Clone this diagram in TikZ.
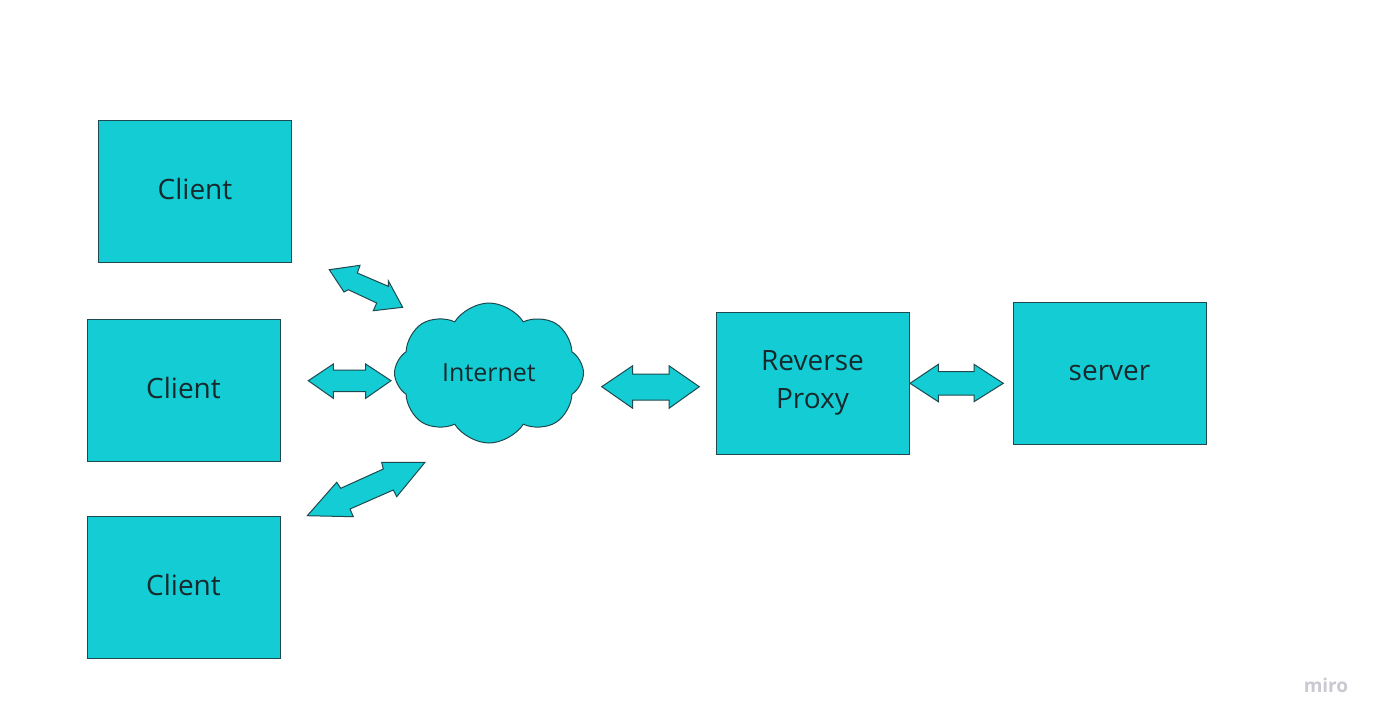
\documentclass[tikz,border=0pt]{standalone}
\usepackage{fontspec}
\setmainfont{Open Sans}
\usetikzlibrary{shapes.symbols}
\definecolor{boxfill}{HTML}{14CDD4}
\definecolor{boxline}{HTML}{1E4A4F}
\definecolor{boxtext}{HTML}{17292C}
\definecolor{wmark}{HTML}{C9C9D2}
\tikzset{
  box/.style={draw=boxline, line width=1pt, fill=boxfill, minimum width=193pt, minimum height=142pt, inner sep=0pt, text=boxtext, font=\fontsize{28}{38}\selectfont, align=center},
  clientbox/.style={box, text depth=5pt},
  cloudnode/.style={cloud, cloud puffs=8, cloud puff arc=115, shape border rotate=22.5, aspect=1.35, draw=boxline, line width=1pt, fill=boxfill, minimum width=189pt, minimum height=140pt, inner sep=0pt, text=boxtext, font=\fontsize{25}{30}\selectfont},
  blockarrow/.style={draw=boxline, line width=1pt, fill=boxfill, line join=miter},
}
\begin{document}
\begin{tikzpicture}[x=1pt, y=-1pt]
\useasboundingbox (0,0) rectangle (1380,724);
\fill[white] (0,0) rectangle (1380,724);

% nodes
\node[clientbox] (c1) at (195,191) {Client};
\node[clientbox] (c2) at (183.5,390) {Client};
\node[clientbox] (c3) at (183.5,587) {Client};
\node[cloudnode] (net) at (489,373) {Internet};
\node[box] (proxy) at (812.5,383) {Reverse\\Proxy};
\node[box] (server) at (1109.5,373) {server};

% block arrows
\path[blockarrow] (329.3,269.7) -- (360,265.3) -- (357.3,273) -- (388.3,286.3) -- (388.3,280.7) -- (402.7,307.3) -- (373.3,310.7) -- (376.7,303) -- (348.3,289.7) -- (344,292) -- cycle;
\path[blockarrow] (308.3,380.7) -- (333.3,364) -- (333.3,370) -- (365.7,370) -- (365.7,364) -- (391,380.7) -- (365.7,398.3) -- (365.7,391.7) -- (333.3,391.7) -- (333.3,398.3) -- cycle;
\path[blockarrow] (307.3,515.7) -- (336.7,482.3) -- (340.7,488.3) -- (383.3,469) -- (381.7,462.3) -- (425,462.3) -- (396.7,496.7) -- (393.3,490) -- (350,509) -- (353.3,516.7) -- cycle;
\path[blockarrow] (601.7,386.7) -- (632.7,365.7) -- (632.7,374) -- (669,374) -- (669,365.7) -- (699.3,386.7) -- (669,408.3) -- (669,400) -- (632.7,400) -- (632.7,408.3) -- cycle;
\path[blockarrow] (910,383.3) -- (938.3,364.3) -- (938.3,371.7) -- (974,371.7) -- (974,364.3) -- (1003.3,383.3) -- (974,401.7) -- (974,395) -- (938.3,395) -- (938.3,401.7) -- cycle;

% watermark
\node[text=wmark, font=\bfseries\fontsize{19}{22}\selectfont] (miro) at (1326,685) {miro};
\end{tikzpicture}
\end{document}
